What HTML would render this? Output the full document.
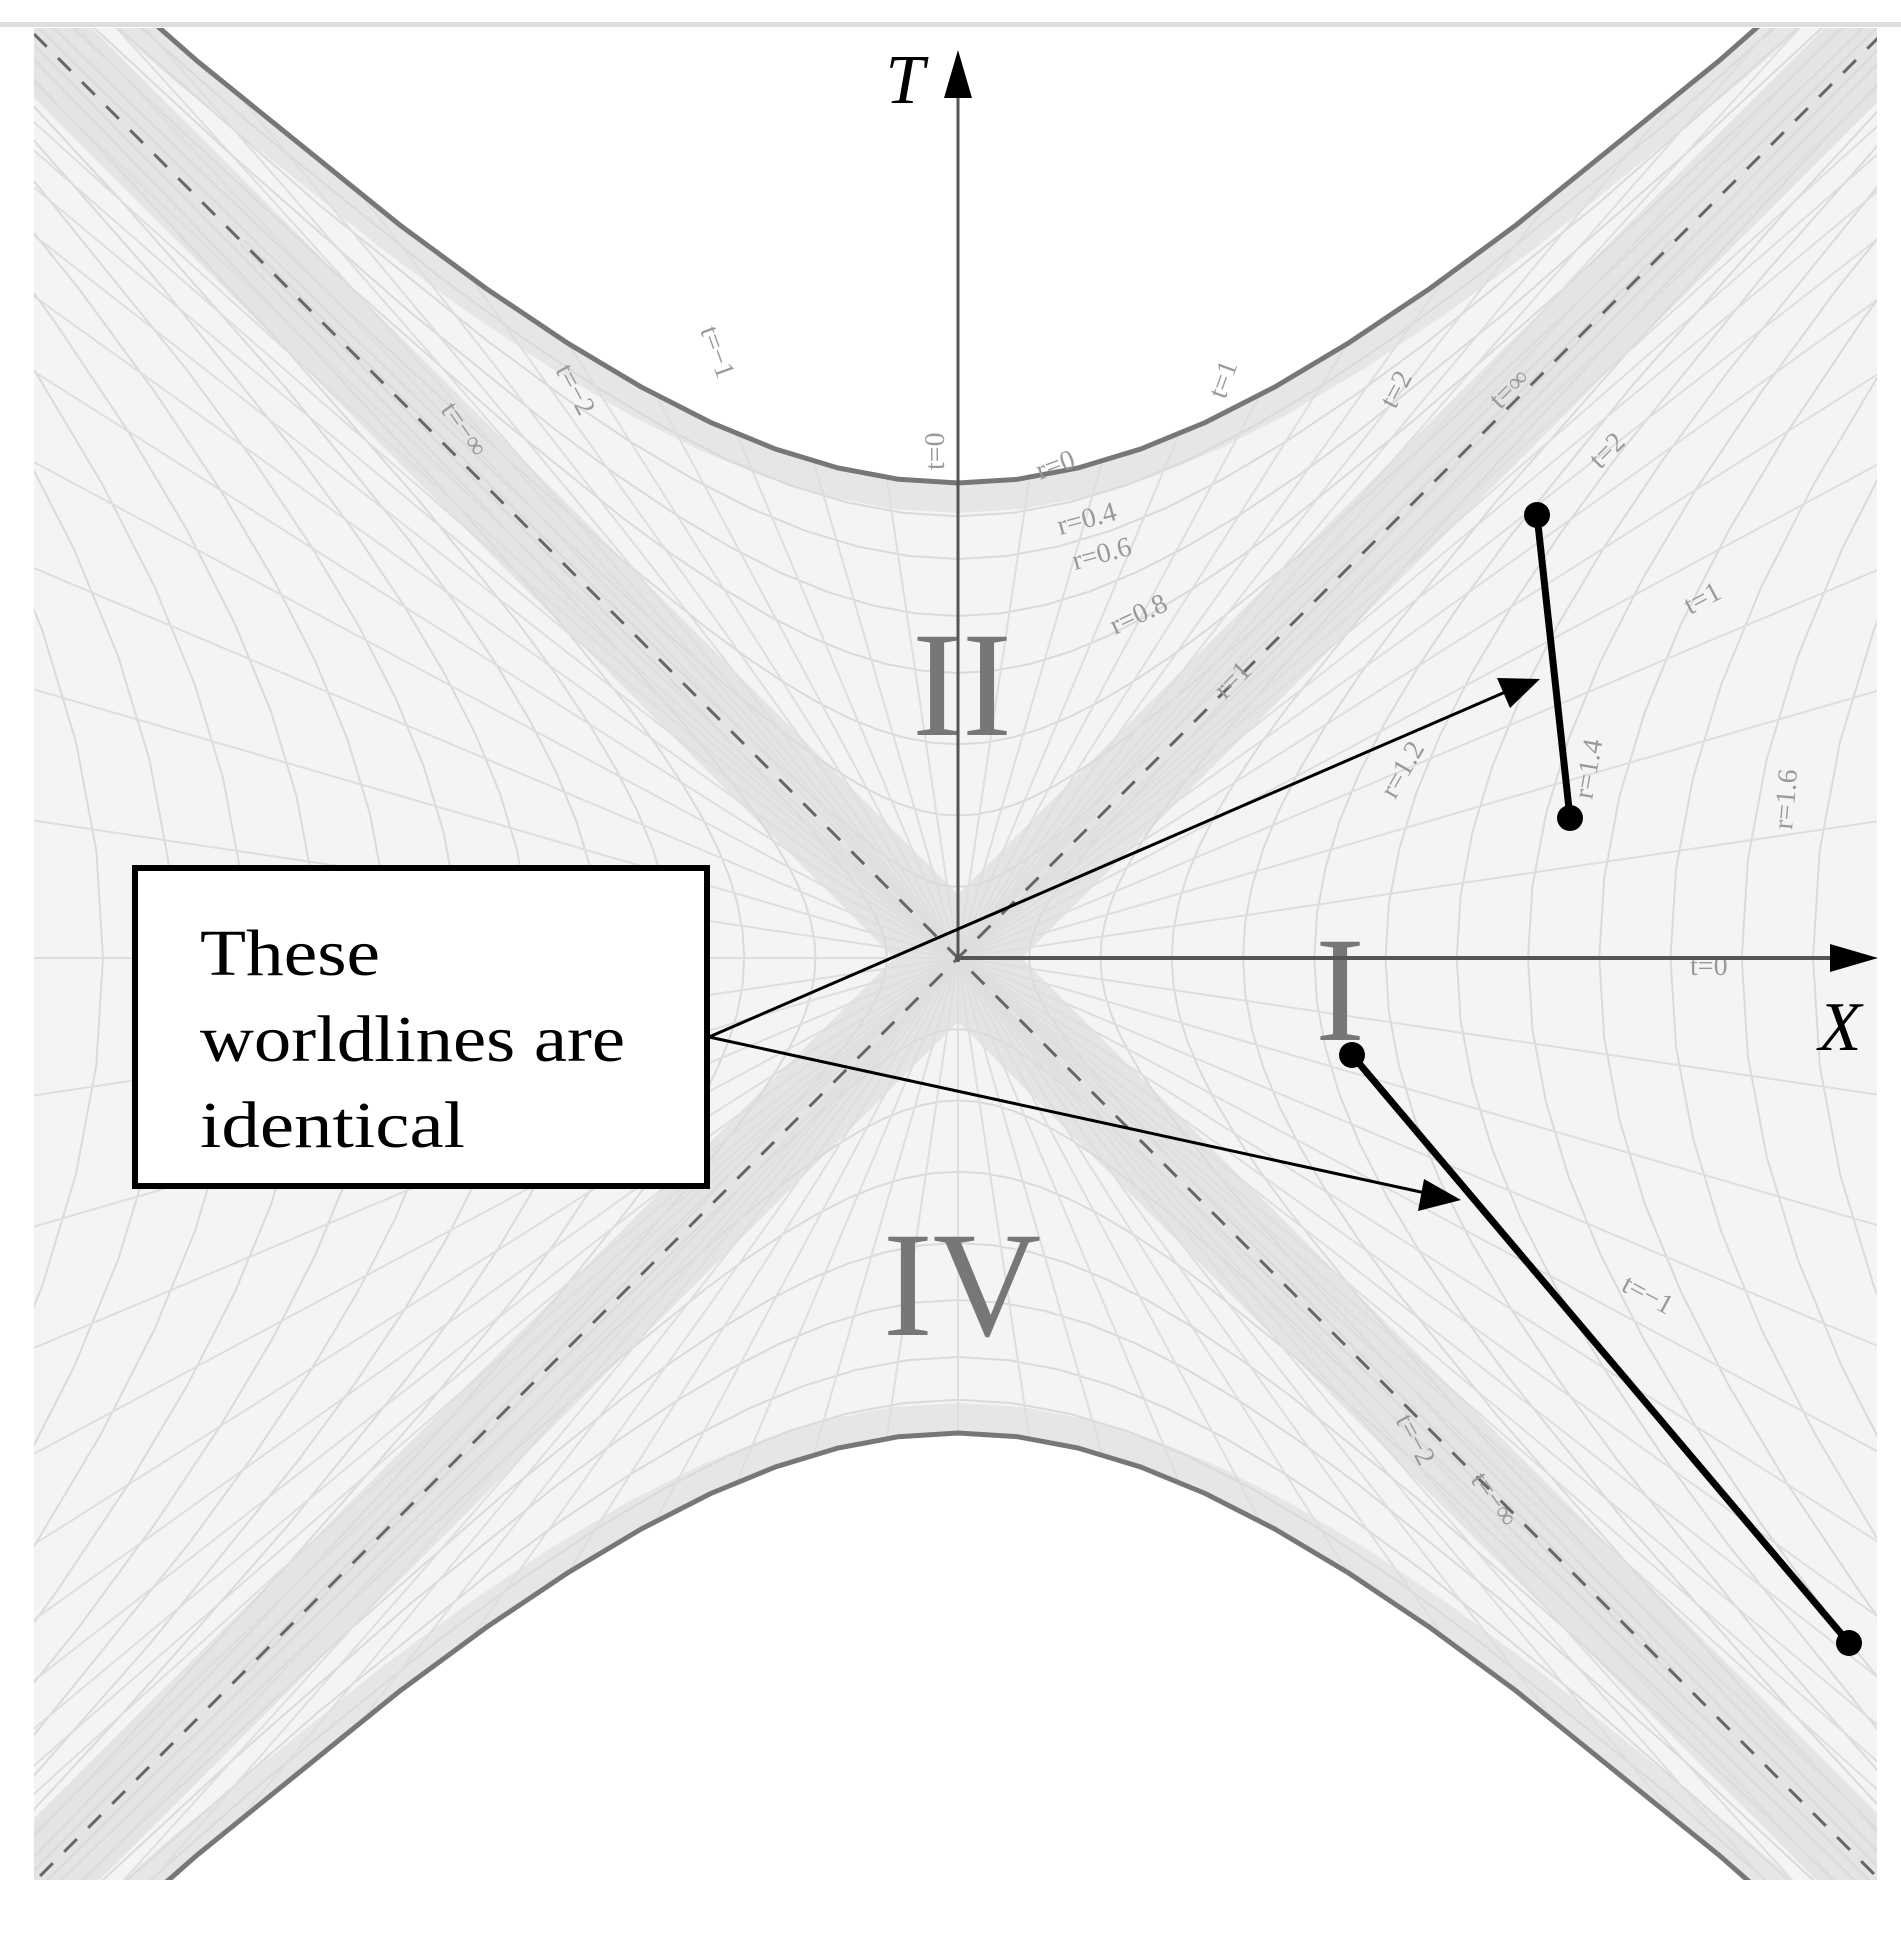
<!DOCTYPE html>
<html><head><meta charset="utf-8"><style>
html,body{margin:0;padding:0;background:#fff;width:1901px;height:1936px;overflow:hidden;}
svg{display:block;}
</style></head><body>
<svg width="1901" height="1936" viewBox="0 0 1901 1936" xmlns="http://www.w3.org/2000/svg" xmlns:xlink="http://www.w3.org/1999/xlink" overflow="hidden">
<defs>
<clipPath id="frame"><rect x="34" y="28" width="1843" height="1852"/></clipPath>
<clipPath id="between"><path d="M-53,-159 L79.9,-40.4 L197.1,61 L303.8,149.6 L399.8,225 L486,288.4 L567.4,343 L641.4,387.1 L710.5,422.4 L775.7,449.2 L838,468 L898.5,479.3 L958,483 L1017.5,479.3 L1078,468 L1140.3,449.2 L1205.5,422.4 L1274.6,387.1 L1348.6,343 L1430,288.4 L1516.2,225 L1612.2,149.6 L1718.9,61 L1836.1,-40.4 L1969,-159 L2000,-160 L2000,2080 L1969,2075 L1836.1,1956.4 L1718.9,1855 L1612.2,1766.4 L1516.2,1691 L1430,1627.6 L1348.6,1573 L1274.6,1528.9 L1205.5,1493.6 L1140.3,1466.8 L1078,1448 L1017.5,1436.7 L958,1433 L898.5,1436.7 L838,1448 L775.7,1466.8 L710.5,1493.6 L641.4,1528.9 L567.4,1573 L486,1627.6 L399.8,1691 L303.8,1766.4 L197.1,1855 L79.9,1956.4 L-53,2075 L-100,2080 L-100,-160 Z"/></clipPath>
<path id="hb" fill="none" d="M-4758.6,-4782.3 L-3700,-3730 L-2873.8,-2912.8 L-2228.3,-2278.4 L-1722.8,-1787 L-1325.4,-1408 L-1011,-1117 L-760.9,-897 L-558.2,-733 L-472,-669.6 L-390.6,-615 L-316.6,-570.9 L-247.5,-535.6 L-182.3,-508.8 L-120,-490 L-59.5,-478.7 L0,-475 L59.5,-478.7 L120,-490 L182.3,-508.8 L247.5,-535.6 L316.6,-570.9 L390.6,-615 L472,-669.6 L558.2,-733 L760.9,-897 L1011,-1117 L1325.4,-1408 L1722.8,-1787 L2228.3,-2278.4 L2873.8,-2912.8 L3700,-3730 L4758.6,-4782.3 M-4758.6,4782.3 L-3700,3730 L-2873.8,2912.8 L-2228.3,2278.4 L-1722.8,1787 L-1325.4,1408 L-1011,1117 L-760.9,897 L-558.2,733 L-472,669.6 L-390.6,615 L-316.6,570.9 L-247.5,535.6 L-182.3,508.8 L-120,490 L-59.5,478.7 L0,475 L59.5,478.7 L120,490 L182.3,508.8 L247.5,535.6 L316.6,570.9 L390.6,615 L472,669.6 L558.2,733 L760.9,897 L1011,1117 L1325.4,1408 L1722.8,1787 L2228.3,2278.4 L2873.8,2912.8 L3700,3730 L4758.6,4782.3"/>
</defs>
<rect x="0" y="22" width="1901" height="5" fill="#ddd"/>
<g clip-path="url(#frame)">
 <g clip-path="url(#between)">
  <rect x="0" y="0" width="1901" height="1936" fill="#f4f4f4"/>
  <line x1="-20" y1="-20" x2="1936" y2="1936" stroke="#e4e4e4" stroke-width="90"/>
  <line x1="1936" y1="-20" x2="-20" y2="1936" stroke="#e4e4e4" stroke-width="90"/>
  <g transform="translate(958,958)"><use xlink:href="#hb" stroke="#e6e6e6" stroke-width="60"/></g>
  <g transform="translate(958,958)" fill="none" stroke="#dadada" stroke-width="2">
   <g>
    <use xlink:href="#hb" transform="scale(0.15)" stroke-width="13"/>
    <use xlink:href="#hb" transform="scale(0.3)" stroke-width="6.6"/>
    <use xlink:href="#hb" transform="scale(0.45)" stroke-width="4.4"/>
    <use xlink:href="#hb" transform="scale(0.6)" stroke-width="3.3"/>
    <use xlink:href="#hb" transform="scale(0.72)" stroke-width="2.8"/>
    <use xlink:href="#hb" transform="scale(0.84)" stroke-width="2.4"/>
    <use xlink:href="#hb" transform="scale(0.93)" stroke-width="2.2"/>
   </g>
   <g transform="rotate(90)">
    <use xlink:href="#hb" transform="scale(0.15)" stroke-width="13"/>
    <use xlink:href="#hb" transform="scale(0.3)" stroke-width="6.6"/>
    <use xlink:href="#hb" transform="scale(0.45)" stroke-width="4.4"/>
    <use xlink:href="#hb" transform="scale(0.6)" stroke-width="3.3"/>
    <use xlink:href="#hb" transform="scale(0.75)" stroke-width="2.7"/>
    <use xlink:href="#hb" transform="scale(0.9)" stroke-width="2.2"/>
    <use xlink:href="#hb" transform="scale(1.05)" stroke-width="1.9"/>
    <use xlink:href="#hb" transform="scale(1.2)" stroke-width="1.7"/>
    <use xlink:href="#hb" transform="scale(1.35)" stroke-width="1.5"/>
    <use xlink:href="#hb" transform="scale(1.5)" stroke-width="1.3"/>
    <use xlink:href="#hb" transform="scale(1.65)" stroke-width="1.2"/>
    <use xlink:href="#hb" transform="scale(1.8)" stroke-width="1.1"/>
   </g>
   <g stroke="#dedede">
    <line x1="-1500" y1="0" x2="1500" y2="0"/><line x1="0" y1="-1500" x2="0" y2="1500"/>
    <line x1="-1500" y1="223" x2="1500" y2="-223"/><line x1="-1500" y1="-223" x2="1500" y2="223"/>
    <line x1="-1500" y1="436" x2="1500" y2="-436"/><line x1="-1500" y1="-436" x2="1500" y2="436"/>
    <line x1="-1500" y1="633" x2="1500" y2="-633"/><line x1="-1500" y1="-633" x2="1500" y2="633"/>
    <line x1="-1500" y1="805" x2="1500" y2="-805"/><line x1="-1500" y1="-805" x2="1500" y2="805"/>
    <line x1="-1500" y1="952" x2="1500" y2="-952"/><line x1="-1500" y1="-952" x2="1500" y2="952"/>
    <line x1="-1500" y1="1074" x2="1500" y2="-1074"/><line x1="-1500" y1="-1074" x2="1500" y2="1074"/>
    <line x1="-1500" y1="1173" x2="1500" y2="-1173"/><line x1="-1500" y1="-1173" x2="1500" y2="1173"/>
    <line x1="-1500" y1="1251" x2="1500" y2="-1251"/><line x1="-1500" y1="-1251" x2="1500" y2="1251"/>
    <line x1="-1500" y1="1311" x2="1500" y2="-1311"/><line x1="-1500" y1="-1311" x2="1500" y2="1311"/>
    <line x1="-1500" y1="1357" x2="1500" y2="-1357"/><line x1="-1500" y1="-1357" x2="1500" y2="1357"/>
    <line x1="-1500" y1="1420" x2="1500" y2="-1420"/><line x1="-1500" y1="-1420" x2="1500" y2="1420"/>
    <line y1="-1500" x1="223" y2="1500" x2="-223"/><line y1="-1500" x1="-223" y2="1500" x2="223"/>
    <line y1="-1500" x1="436" y2="1500" x2="-436"/><line y1="-1500" x1="-436" y2="1500" x2="436"/>
    <line y1="-1500" x1="633" y2="1500" x2="-633"/><line y1="-1500" x1="-633" y2="1500" x2="633"/>
    <line y1="-1500" x1="805" y2="1500" x2="-805"/><line y1="-1500" x1="-805" y2="1500" x2="805"/>
    <line y1="-1500" x1="952" y2="1500" x2="-952"/><line y1="-1500" x1="-952" y2="1500" x2="952"/>
    <line y1="-1500" x1="1074" y2="1500" x2="-1074"/><line y1="-1500" x1="-1074" y2="1500" x2="1074"/>
    <line y1="-1500" x1="1173" y2="1500" x2="-1173"/><line y1="-1500" x1="-1173" y2="1500" x2="1173"/>
    <line y1="-1500" x1="1251" y2="1500" x2="-1251"/><line y1="-1500" x1="-1251" y2="1500" x2="1251"/>
    <line y1="-1500" x1="1311" y2="1500" x2="-1311"/><line y1="-1500" x1="-1311" y2="1500" x2="1311"/>
    <line y1="-1500" x1="1357" y2="1500" x2="-1357"/><line y1="-1500" x1="-1357" y2="1500" x2="1357"/>
    <line y1="-1500" x1="1420" y2="1500" x2="-1420"/><line y1="-1500" x1="-1420" y2="1500" x2="1420"/>
   </g>
  </g>
 </g>
 <g transform="translate(958,958)"><use xlink:href="#hb" stroke="#777" stroke-width="5"/></g>
 <line x1="34" y1="34" x2="1880" y2="1880" stroke="#666" stroke-width="3" stroke-dasharray="18,16"/>
 <line x1="1880" y1="36" x2="34" y2="1882" stroke="#666" stroke-width="3" stroke-dasharray="18,16"/>
</g>
<g font-family="'Liberation Serif',serif" fill="#999" font-size="28">
 <text transform="translate(1395,1420) rotate(62)">t=−2</text>
 <text transform="translate(1620,1290) rotate(28)">t=−1</text>
 <text transform="translate(1690,975)">t=0</text>
 <text transform="translate(1690,615) rotate(-28)">t=1</text>
 <text transform="translate(1600,470) rotate(-45)">t=2</text>
 <text transform="translate(1395,410) rotate(-62)">t=2</text>
 <text transform="translate(1225,400) rotate(-70)">t=1</text>
 <text transform="translate(944,470) rotate(-90)">t=0</text>
 <text transform="translate(700,330) rotate(70)">t=−1</text>
 <text transform="translate(555,370) rotate(62)">t=−2</text>
 <text transform="translate(1040,480) rotate(-20)">r=0</text>
 <text transform="translate(1060,535) rotate(-15)">r=0.4</text>
 <text transform="translate(1075,570) rotate(-15)">r=0.6</text>
 <text transform="translate(1115,635) rotate(-25)">r=0.8</text>
 <text transform="translate(1225,700) rotate(-45)">r=1</text>
 <text transform="translate(1395,800) rotate(-60)">r=1.2</text>
 <text transform="translate(1592,800) rotate(-80)">r=1.4</text>
 <text transform="translate(1792,830) rotate(-85)">r=1.6</text>
 <text transform="translate(1500,410) rotate(-45)">t=∞</text>
 <text transform="translate(440,410) rotate(55)">t=−∞</text>
 <text transform="translate(1470,1480) rotate(55)">t=−∞</text>
</g>
<g font-family="'Liberation Serif',serif" fill="#777" font-size="150" text-anchor="middle">
 <text x="962" y="735">II</text>
 <text x="1340" y="1040">I</text>
 <text x="962" y="1335">IV</text>
</g>
<line x1="958" y1="962" x2="958" y2="70" stroke="#555" stroke-width="3"/>
<path d="M944,98 L958,50 L972,98 z" fill="#000"/>
<line x1="955" y1="958" x2="1850" y2="958" stroke="#555" stroke-width="4"/>
<path d="M1830,944 L1878,958 L1830,972 z" fill="#000"/>
<text x="905" y="103" font-family="'Liberation Serif',serif" font-style="italic" font-size="70" text-anchor="middle">T</text>
<text x="1840" y="1050" font-family="'Liberation Serif',serif" font-style="italic" font-size="70" text-anchor="middle">X</text>
<line x1="1537" y1="515" x2="1570" y2="818" stroke="#000" stroke-width="7"/>
<circle cx="1537" cy="515" r="13" fill="#000"/>
<circle cx="1570" cy="818" r="13" fill="#000"/>
<line x1="1352" y1="1055" x2="1849" y2="1643" stroke="#000" stroke-width="7"/>
<circle cx="1352" cy="1055" r="13" fill="#000"/>
<circle cx="1849" cy="1643" r="13" fill="#000"/>
<line x1="709" y1="1037" x2="1510" y2="690" stroke="#000" stroke-width="3"/>
<path d="M1540,679 L1497,678 L1510,708 z" fill="#000"/>
<line x1="709" y1="1037" x2="1430" y2="1194" stroke="#000" stroke-width="3"/>
<path d="M1461,1200 L1424,1179 L1418,1211 z" fill="#000"/>
<rect x="135" y="868" width="572" height="318" fill="#fff" stroke="#000" stroke-width="6"/>
<g font-family="'Liberation Serif',serif" font-size="66" fill="#000">
 <text x="200" y="975" textLength="180" lengthAdjust="spacingAndGlyphs">These</text>
 <text x="200" y="1061" textLength="425" lengthAdjust="spacingAndGlyphs">worldlines are</text>
 <text x="200" y="1147" textLength="265" lengthAdjust="spacingAndGlyphs">identical</text>
</g>
</svg>
</body></html>
